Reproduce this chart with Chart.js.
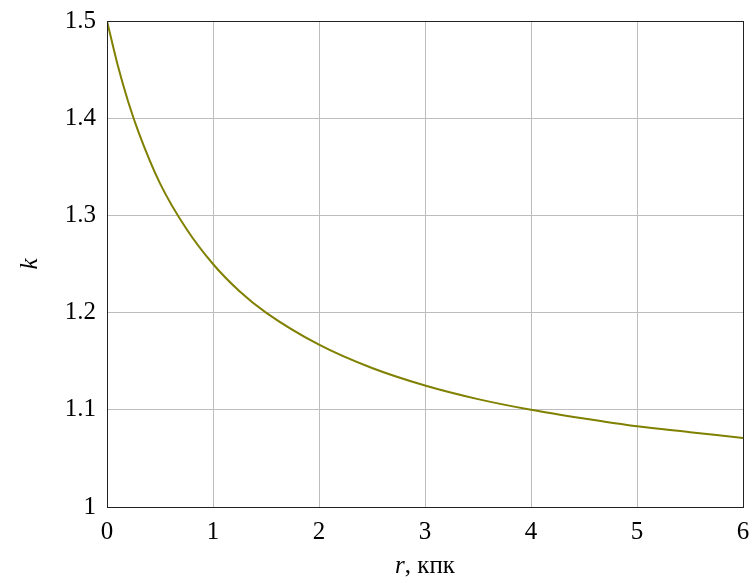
<!DOCTYPE html>
<html>
<head>
<meta charset="utf-8">
<script src="https://cdn.jsdelivr.net/npm/chart.js@4"></script>
<style>
  html, body { margin: 0; padding: 0; background: #fff; }
  #wrap { width: 754px; height: 580px; position: relative; }
</style>
</head>
<body>
<div id="wrap"><canvas id="chart"></canvas></div>
<script>
// values
const rValues = [0, 0.1, 0.2, 0.3, 0.5, 0.75, 1, 1.25, 1.5, 2, 2.5, 3, 3.5, 4, 4.5, 5, 5.5, 6];
const kValues = [1.5, 1.455, 1.417, 1.385, 1.333, 1.286, 1.25, 1.222, 1.2, 1.167, 1.143, 1.125, 1.111, 1.1, 1.091, 1.083, 1.077, 1.071];
const xTicks = [0, 1, 2, 3, 4, 5, 6];
const yTicks = [1, 1.1, 1.2, 1.3, 1.4, 1.5];

const serif = "'Liberation Serif', serif";

const framePlugin = {
  id: 'frame',
  afterDraw(chart) {
    const { ctx, chartArea: a } = chart;
    ctx.save();
    ctx.strokeStyle = '#222';
    ctx.lineWidth = 1;
    ctx.strokeRect(a.left + 0.5, a.top + 0.5, a.right - a.left, a.bottom - a.top);

    // axis titles: italic variable, upright unit
    ctx.fillStyle = '#000';
    ctx.textBaseline = 'alphabetic';
    const italic = 'italic 25px ' + serif;
    const upright = '25px ' + serif;
    ctx.font = italic;
    const w1 = ctx.measureText('r').width;
    ctx.font = upright;
    const w2 = ctx.measureText(', кпк').width;
    const cx = (a.left + a.right) / 2;
    const x = cx - (w1 + w2) / 2;
    const y = 573;
    ctx.font = italic;
    ctx.fillText('r', x, y);
    ctx.font = upright;
    ctx.fillText(', кпк', x + w1, y);

    ctx.translate(37, (a.top + a.bottom) / 2);
    ctx.rotate(-Math.PI / 2);
    ctx.font = italic;
    ctx.textAlign = 'center';
    ctx.fillText('k', 0, 0);
    ctx.restore();
  }
};

new Chart(document.getElementById('chart'), {
  type: 'line',
  data: {
    datasets: [{
      data: rValues.map((r, i) => ({ x: r, y: kValues[i] })),
      borderColor: '#808000',
      borderWidth: 2,
      pointRadius: 0,
      fill: false,
      cubicInterpolationMode: 'monotone'
    }]
  },
  options: {
    responsive: true,
    maintainAspectRatio: false,
    animation: false,
    layout: { padding: { top: 21, right: 11, left: 0, bottom: 0 } },
    plugins: { legend: { display: false }, tooltip: { enabled: false } },
    scales: {
      x: {
        type: 'linear',
        min: 0,
        max: 6,
        afterBuildTicks: s => { s.ticks = xTicks.map(v => ({ value: v })); },
        afterFit: s => { s.height = 73; s.paddingLeft = 0; s.paddingRight = 0; },
        grid: { color: '#bdbdbd', lineWidth: 1, tickLength: 0 },
        border: { color: '#222' },
        ticks: {
          color: '#000',
          font: { family: serif, size: 25 },
          padding: 10,
          maxRotation: 0,
          callback: v => String(v)
        }
      },
      y: {
        type: 'linear',
        min: 1,
        max: 1.5,
        afterBuildTicks: s => { s.ticks = yTicks.map(v => ({ value: v })); },
        afterFit: s => { s.width = 107; s.paddingTop = 0; s.paddingBottom = 0; },
        grid: { color: '#bdbdbd', lineWidth: 1, tickLength: 0 },
        border: { color: '#222' },
        ticks: {
          color: '#000',
          font: { family: serif, size: 25 },
          padding: 11,
          callback: v => String(Math.round(v * 10) / 10)
        }
      }
    }
  },
  plugins: [framePlugin]
});
</script>
</body>
</html>
